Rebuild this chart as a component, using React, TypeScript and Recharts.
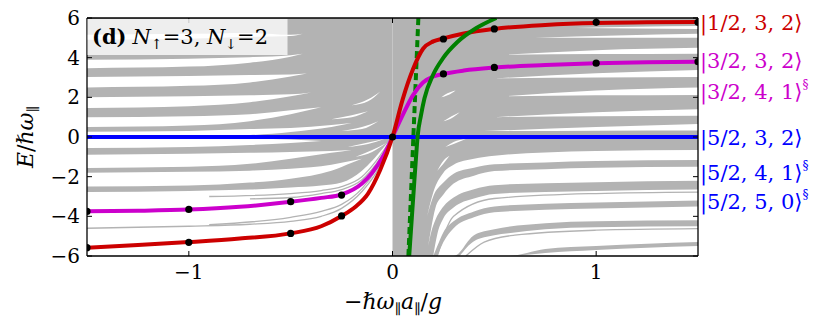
import React from 'react';
import { ComposedChart, Line, Area, XAxis, YAxis } from 'recharts';

const GRAY = '#b3b3b3';
const RED = '#cc0000';
const MAG = '#cc00cc';
const BLUE = '#0000ff';
const GREEN = '#008000';
const FONT = 'DejaVu Serif';

const xTicks = [-1, 0, 1];
const yTicks = [-6, -4, -2, 0, 2, 4, 6];

// coloured levels, [x, E]
const red = [
  [-1.5, -5.58], [-1.25, -5.45], [-1, -5.3], [-0.75, -5.12], [-0.5, -4.86], [-0.35, -4.5],
  [-0.25, -3.98], [-0.18, -3.5], [-0.12, -2.85], [-0.06, -1.65], [0, 0], [0.05, 1.9],
  [0.1, 3.4], [0.15, 4.45], [0.2, 4.82], [0.25, 4.97], [0.35, 5.22], [0.5, 5.45],
  [0.75, 5.65], [1, 5.75], [1.25, 5.78], [1.5, 5.8],
];
const magenta = [
  [-1.5, -3.75], [-1.25, -3.72], [-1, -3.66], [-0.75, -3.52], [-0.5, -3.27], [-0.35, -3.07],
  [-0.25, -2.9], [-0.15, -2.35], [-0.1, -1.8], [-0.05, -1.05], [0, 0], [0.05, 1.1],
  [0.1, 2.1], [0.15, 2.75], [0.2, 3.05], [0.25, 3.18], [0.35, 3.35], [0.5, 3.5],
  [0.75, 3.63], [1, 3.72], [1.25, 3.77], [1.5, 3.8],
];
const blue = [[-1.5, 0], [1.5, 0]];
const green = [
  [0.082, -6], [0.09, -4.8], [0.1, -3.3], [0.107, -2.25], [0.115, -1.1], [0.123, 0],
  [0.14, 1.1], [0.157, 1.95], [0.2, 3.15], [0.25, 4.0], [0.32, 4.8], [0.41, 5.48], [0.51, 6],
];
const greenDash = [[0.078, -6], [0.127, 6]];

const redDots = [[-1.5, -5.58], [-1, -5.31], [-0.5, -4.86], [-0.25, -3.98], [0.25, 4.94], [0.5, 5.45], [1, 5.78], [1.5, 5.78]];
const magDots = [[-1.5, -3.75], [-1, -3.65], [-0.5, -3.26], [-0.25, -2.93], [0.25, 3.18], [0.5, 3.51], [1, 3.72], [1.5, 3.8]];
const originDot = [[0, 0]];

// grey spectrum: filled regions, [x, lo, hi]
const fillLeft = [
  [-1.5, -2.77, 6], [-1.0, -2.72, 6], [-0.7, -2.65, 6], [-0.5, -2.55, 6], [-0.35, -2.45, 6],
  [-0.25, -2.3, 6], [-0.15, -1.7, 6], [-0.1, -1.2, 6], [-0.05, -0.6, 6], [0, 0, 6],
];
const fillRight = [[0, -6, 6], [1.5, -6, 6]];

// white gaps between the grey bands, [x, lo, hi]
const gapsLeft = [
  [[-1.5, 4.9, 5.15], [-1.0, 4.95, 5.2], [-0.7, 5.05, 5.25], [-0.5, 5.09, 5.15], [-0.44, 5.2, 5.2]],
  [[-1.5, 3.47, 3.9], [-1.0, 3.55, 3.95], [-0.7, 3.75, 4.02], [-0.5, 4.05, 4.12], [-0.44, 4.2, 4.2]],
  [[-1.5, 2.5, 3.03], [-1.0, 2.58, 3.08], [-0.7, 2.75, 3.12], [-0.5, 3.05, 3.15], [-0.42, 3.2, 3.2]],
  [[-1.5, 1.46, 2.0], [-1.0, 1.55, 2.05], [-0.7, 1.75, 2.1], [-0.5, 2.05, 2.15], [-0.4, 2.25, 2.25]],
  [[-1.5, 0.5, 1.0], [-1.0, 0.58, 1.05], [-0.7, 0.8, 1.15], [-0.5, 1.15, 1.35], [-0.35, 1.5, 1.5]],
  [[-1.5, 0.05, 0.26], [-1.0, 0.06, 0.3], [-0.7, 0.1, 0.4], [-0.5, 0.25, 0.45], [-0.3, 0.5, 0.6], [-0.2, 0.7, 0.7]],
  [[-1.5, -0.55, -0.05], [-1.0, -0.5, -0.05], [-0.7, -0.4, -0.08], [-0.5, -0.3, -0.12], [-0.35, -0.2, -0.2]],
  [[-1.5, -1.56, -0.9], [-1.0, -1.5, -0.85], [-0.7, -1.35, -0.8], [-0.5, -1.1, -0.75], [-0.3, -0.8, -0.7], [-0.2, -0.65, -0.65]],
  [[-1.5, -2.5, -1.8], [-1.0, -2.45, -1.75], [-0.7, -2.3, -1.7], [-0.5, -2.1, -1.6], [-0.3, -1.7, -1.4], [-0.2, -1.3, -1.2], [-0.15, -1.1, -1.1]],
  [[-0.3, 0.9, 0.9], [-0.2, 1.0, 1.1], [-0.12, 1.3, 1.3]],
  [[-0.25, 0.3, 0.3], [-0.15, 0.4, 0.5], [-0.07, 0.8, 0.8]],
  [[-0.2, 1.6, 1.6], [-0.12, 1.8, 1.9], [-0.06, 2.3, 2.3]],
  [[-0.22, -0.5, -0.5], [-0.12, -0.35, -0.28], [-0.04, -0.1, -0.1]],
  [[-0.18, -1.0, -1.0], [-0.1, -0.75, -0.66], [-0.03, -0.3, -0.3]],
];
const gapsRight = [
  [[0.17, -4.0, -4.0], [0.2, -3.0, -2.8], [0.25, -2.3, -1.8], [0.3, -1.85, -1.4], [0.4, -1.55, -1.1], [0.5, -1.38, -0.95], [0.75, -1.28, -0.78], [1.0, -1.21, -0.7], [1.5, -1.16, -0.66]],
  [[0.175, -5.5, -5.5], [0.19, -4.8, -4.6], [0.21, -4.2, -3.6], [0.25, -3.5, -2.9], [0.3, -3.05, -2.35], [0.4, -2.63, -1.95], [0.5, -2.43, -1.72], [0.75, -2.33, -1.62], [1.0, -2.28, -1.55], [1.5, -2.21, -1.5]],
  [[0.2, -6, -6], [0.22, -5.5, -4.9], [0.25, -4.8, -4.1], [0.3, -4.25, -3.55], [0.4, -3.75, -3.1], [0.5, -3.5, -2.87], [0.75, -3.37, -2.77], [1.0, -3.3, -2.72], [1.5, -3.2, -2.65]],
  [[0.22, -6, -6], [0.25, -6, -5.3], [0.3, -6, -4.6], [0.4, -4.95, -4.05], [0.5, -4.65, -3.8], [0.75, -4.35, -3.67], [1.0, -4.25, -3.6], [1.5, -4.2, -3.5]],
  [[0.33, -6, -6], [0.4, -6, -5.25], [0.5, -6, -4.95], [0.57, -6, -4.85], [0.75, -5.65, -4.65], [1.0, -5.5, -4.55], [1.5, -5.3, -4.5]],
  [[0.6, -6, -6], [0.75, -6, -5.85], [1.0, -6, -5.7], [1.5, -6, -5.5]],
  [[0.9, 5.5, 5.5], [1.2, 5.47, 5.56], [1.5, 5.45, 5.6]],
  [[0.7, 5.0, 5.0], [1.1, 5.0, 5.12], [1.5, 5.0, 5.2]],
  [[0.55, 4.15, 4.15], [1.0, 4.18, 4.38], [1.5, 4.2, 4.5]],
  [[0.5, 2.95, 2.95], [1.0, 3.0, 3.22], [1.5, 3.02, 3.38]],
  [[0.55, 2.05, 2.05], [1.0, 2.1, 2.35], [1.5, 2.12, 2.5]],
  [[0.5, 1.0, 1.0], [1.0, 1.05, 1.25], [1.5, 1.07, 1.4]],
  [[0.45, 0.3, 0.3], [1.0, 0.32, 0.5], [1.5, 0.33, 0.65]],
  [[0.24, 2.0, 2.0], [0.27, 2.1, 2.2], [0.31, 2.35, 2.35]],
  [[0.25, 0.8, 0.8], [0.29, 0.95, 1.05], [0.33, 1.25, 1.25]],
  [[0.22, -1.7, -1.7], [0.25, -1.35, -1.2], [0.28, -0.95, -0.95]],
  [[0.26, -0.5, -0.5], [0.3, -0.35, -0.25], [0.36, -0.1, -0.1]],
];

// thin grey levels, [x, E]
const thinLines = [
  [[-1.5, -4.6], [-1.0, -4.5], [-0.7, -4.4], [-0.5, -4.25], [-0.35, -4.0], [-0.25, -3.6], [-0.15, -2.75], [-0.08, -1.8], [0, 0]],
  [[-0.9, -4.42], [-0.5, -4.05], [-0.35, -3.75], [-0.25, -3.4], [-0.15, -2.6], [-0.08, -1.65], [0, 0]],
  [[-0.9, -3.0], [-0.5, -2.85], [-0.35, -2.7], [-0.25, -2.5], [-0.15, -2.0], [-0.08, -1.2], [0, 0]],
  [[-0.7, -3.12], [-0.5, -3.05], [-0.35, -2.85], [-0.25, -2.65], [-0.15, -2.15], [-0.08, -1.35], [0, 0]],
  [[0.36, -6], [0.45, -5.3], [0.6, -4.95], [1.0, -4.7], [1.5, -4.62]],
  [[0.22, -6], [0.3, -4.0], [0.5, -3.1], [1.0, -2.85], [1.5, -2.78]],
];

const pts = (a: number[][]) => a.map(([x, y]) => ({ x, y }));
const rng = (a: number[][]) => a.map(([x, lo, hi]) => ({ x, r: [lo, hi] }));
const fmt = (v: number) => (v < 0 ? `\u2212${-v}` : `${v}`);
const blank = () => '';

const tickStyle = { fill: '#000', fontSize: 20, fontFamily: FONT };
const axisLine = { stroke: '#000', strokeWidth: 1.3 };

const band = (a: number[][], fill: string, key: string) => (
  <Area key={key} data={rng(a)} dataKey="r" type="monotone" fill={fill} fillOpacity={1}
    stroke="none" dot={false} activeDot={false} isAnimationActive={false} />
);

const Ket = ({ y, color, label, sec }: { y: number; color: string; label: string; sec?: boolean }) => (
  <text x={700} y={y} fill={color} fontSize={21} fontFamily={FONT}>
    {label}
    {sec && <tspan fontSize={12} dy={-10}>§</tspan>}
  </text>
);

export default function App() {
  return (
    <div style={{ position: 'absolute', left: 0, top: 0, width: 822, height: 329, background: '#fff' }}>
      <ComposedChart width={822} height={329} margin={{ top: 17, right: 123, bottom: 33, left: 27 }}>
        <XAxis dataKey="x" type="number" domain={[-1.5, 1.5]} ticks={xTicks} allowDataOverflow
          tickSize={-5} tickMargin={14} height={40} axisLine={axisLine} tickLine={{ stroke: '#000' }}
          tick={tickStyle} tickFormatter={fmt} />
        <XAxis xAxisId="t" orientation="top" dataKey="x" type="number" domain={[-1.5, 1.5]} ticks={xTicks}
          allowDataOverflow tickSize={-5} height={1} axisLine={axisLine} tickLine={{ stroke: '#000' }}
          tickFormatter={blank} />
        <YAxis type="number" domain={[-6, 6]} ticks={yTicks} allowDataOverflow width={60}
          tickSize={-5} tickMargin={12} axisLine={axisLine} tickLine={{ stroke: '#000' }}
          tick={tickStyle} tickFormatter={fmt} />
        <YAxis yAxisId="r" orientation="right" type="number" domain={[-6, 6]} ticks={yTicks} allowDataOverflow
          width={1} tickSize={-5} axisLine={axisLine} tickLine={{ stroke: '#000' }} tickFormatter={blank} />

        {band(fillLeft, GRAY, 'fl')}
        {band(fillRight, GRAY, 'fr')}
        {gapsLeft.map((g, i) => band(g, '#fff', `gl${i}`))}
        {gapsRight.map((g, i) => band(g, '#fff', `gr${i}`))}
        {thinLines.map((l, i) => (
          <Line key={`t${i}`} data={pts(l)} dataKey="y" type="monotone" stroke={GRAY} strokeWidth={1.3}
            dot={false} activeDot={false} isAnimationActive={false} />
        ))}

        <Line data={pts(blue)} dataKey="y" stroke={BLUE} strokeWidth={4} dot={false} activeDot={false} isAnimationActive={false} />
        <Line data={pts(greenDash)} dataKey="y" type="linear" stroke={GREEN} strokeWidth={4} strokeDasharray="7 4"
          dot={false} activeDot={false} isAnimationActive={false} />
        <Line data={pts(magenta)} dataKey="y" type="monotone" stroke={MAG} strokeWidth={4} dot={false} activeDot={false} isAnimationActive={false} />
        <Line data={pts(red)} dataKey="y" type="monotone" stroke={RED} strokeWidth={4} dot={false} activeDot={false} isAnimationActive={false} />
        <Line data={pts(green)} dataKey="y" type="monotone" stroke={GREEN} strokeWidth={4} dot={false} activeDot={false} isAnimationActive={false} />

        {[redDots, magDots, originDot].map((d, i) => (
          <Line key={`d${i}`} data={pts(d)} dataKey="y" stroke="none" isAnimationActive={false} activeDot={false}
            dot={{ r: 3.6, fill: '#000', stroke: 'none' }} />
        ))}
      </ComposedChart>

      <svg width={822} height={329} style={{ position: 'absolute', left: 0, top: 0, pointerEvents: 'none' }}>
        <rect x={87.5} y={19} width={200} height={36} fill="#fff" fillOpacity={0.78} />
        <text x={92} y={44} fontSize={21} fontFamily={FONT}>
          <tspan fontWeight="bold">(d)</tspan>
          <tspan dx={6} fontStyle="italic">N</tspan>
          <tspan fontSize={14} dy={5}>↑</tspan>
          <tspan dy={-5}>=3, </tspan>
          <tspan fontStyle="italic">N</tspan>
          <tspan fontSize={14} dy={5}>↓</tspan>
          <tspan dy={-5}>=2</tspan>
        </text>

        <text x={33} y={137} fontSize={22} fontFamily={FONT} textAnchor="middle" transform="rotate(-90 33 137)">
          <tspan fontStyle="italic">E</tspan>
          <tspan>/</tspan>
          <tspan fontStyle="italic">ℏω</tspan>
          <tspan fontSize={14} dy={5}>∥</tspan>
        </text>

        <text x={393} y={309} fontSize={22} fontFamily={FONT} textAnchor="middle">
          <tspan>−</tspan>
          <tspan fontStyle="italic">ℏω</tspan>
          <tspan fontSize={14} dy={5}>∥</tspan>
          <tspan fontStyle="italic" dy={-5}>a</tspan>
          <tspan fontSize={14} dy={5}>∥</tspan>
          <tspan dy={-5}>/</tspan>
          <tspan fontStyle="italic">g</tspan>
        </text>

        <Ket y={30} color={RED} label="|1/2, 3, 2⟩" />
        <Ket y={68} color={MAG} label="|3/2, 3, 2⟩" />
        <Ket y={99} color={MAG} label="|3/2, 4, 1⟩" sec />
        <Ket y={145} color={BLUE} label="|5/2, 3, 2⟩" />
        <Ket y={180} color={BLUE} label="|5/2, 4, 1⟩" sec />
        <Ket y={209} color={BLUE} label="|5/2, 5, 0⟩" sec />
      </svg>
    </div>
  );
}
